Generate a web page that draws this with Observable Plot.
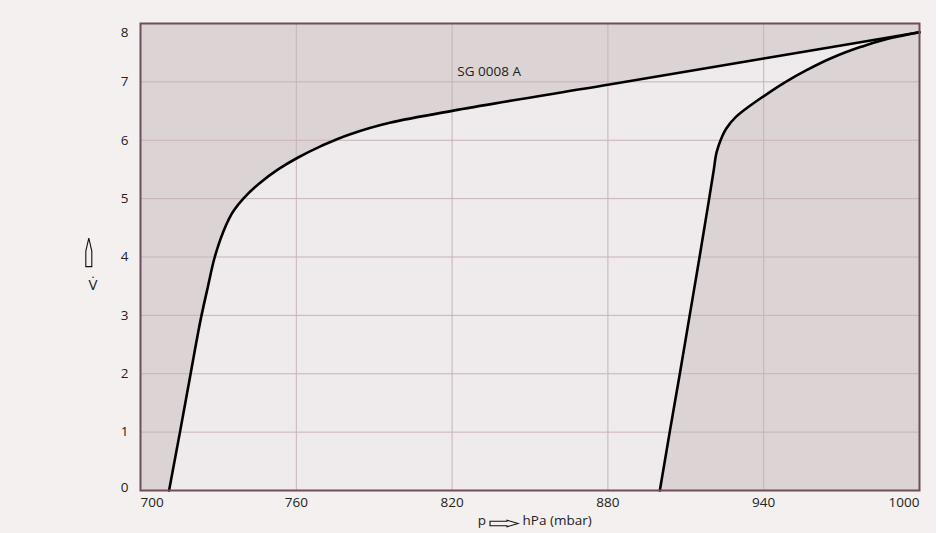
<!DOCTYPE html>
<html>
<head>
<meta charset="utf-8">
<script src="https://cdn.jsdelivr.net/npm/d3@7"></script>
<script src="https://cdn.jsdelivr.net/npm/@observablehq/plot@0.6"></script>
<style>
  html, body { margin: 0; padding: 0; background: #ffffff; }
  #chart svg { display: block; }
</style>
</head>
<body>
<div id="chart"></div>
<script>
// Curve SG 0008 A: left branch (rising, then upper flat branch)
const leftP = [711, 715.2, 719.3, 723.5, 726.0, 728.6, 731.6, 736.0, 739.6, 745.5, 753.0, 760.5, 769.5, 780.5, 796, 822, 880, 940, 1000];
const leftV = [0, 1, 2, 3, 3.5, 4.0, 4.4, 4.8, 5.0, 5.25, 5.5, 5.7, 5.9, 6.1, 6.3, 6.52, 6.95, 7.40, 7.85];
// Right branch
const rightP = [900, 903.8, 907.7, 911.5, 915.3, 919.0, 920.8, 921.9, 923.4, 925.6, 929.3, 935.0, 941.5, 948.5, 956.5, 965.7, 977.5, 989, 1000];
const rightV = [0, 1, 2, 3, 4, 5, 5.5, 5.8, 6.0, 6.2, 6.4, 6.6, 6.8, 7.0, 7.2, 7.4, 7.6, 7.75, 7.85];

const xTicks = [700, 760, 820, 880, 940, 1000];
const yTicks = [0, 1, 2, 3, 4, 5, 6, 7, 8];
const seriesLabel = "SG 0008 A";
const labelP = 822;
const labelV = 7.18;

const left = leftP.map((p, i) => ({p, v: leftV[i]}));
const right = rightP.map((p, i) => ({p, v: rightV[i]}));

const dark = "#dcd3d4";
const light = "#efeaeb";
const gridC = "#c6b3b8";
const frameC = "#6e4d5d";
const pMax = xTicks[xTicks.length - 1];

const chart = Plot.plot({
  width: 936,
  height: 533,
  marginLeft: 140,
  marginRight: 17,
  marginTop: 23,
  marginBottom: 43,
  style: {background: "#f3f0ef", fontFamily: "'Open Sans', 'DejaVu Sans', sans-serif", fontSize: "13.5px", color: "#222"},
  x: {domain: [700, 1000], axis: null},
  y: {domain: [0, 8], axis: null},
  marks: [
    Plot.frame({fill: dark}),
    // light band: right of left branch ...
    Plot.areaX(left, {y: "v", x1: "p", x2: pMax, fill: light, curve: "monotone-y"}),
    // ... but not right of the right branch
    Plot.areaX(right, {y: "v", x1: "p", x2: pMax, fill: dark, curve: "monotone-y"}),
    Plot.gridX(xTicks.slice(1, -1), {stroke: gridC, strokeOpacity: 1, strokeWidth: 1}),
    Plot.gridY(yTicks.slice(1, -1), {stroke: gridC, strokeOpacity: 1, strokeWidth: 1}),
    Plot.line(left, {x: "p", y: "v", stroke: "#000", strokeWidth: 2.6, curve: "monotone-y"}),
    Plot.line(right, {x: "p", y: "v", stroke: "#000", strokeWidth: 2.6, curve: "monotone-y"}),
    Plot.frame({stroke: frameC, strokeWidth: 2}),
    // y tick labels
    Plot.text(yTicks.slice(1, -1), {y: d => d, text: d => String(d), frameAnchor: "left", dx: -12, textAnchor: "end"}),
    Plot.text(yTicks.slice(-1), {y: d => d, text: d => String(d), frameAnchor: "left", dx: -12, dy: 9, textAnchor: "end"}),
    Plot.text(yTicks.slice(0, 1), {y: d => d, text: d => String(d), frameAnchor: "left", dx: -12, dy: -3, textAnchor: "end"}),
    // x tick labels
    Plot.text(xTicks.slice(1, -1), {x: d => d, text: d => String(d), frameAnchor: "bottom", dy: 16}),
    Plot.text(xTicks.slice(0, 1), {x: d => d, text: d => String(d), frameAnchor: "bottom", dy: 16, textAnchor: "start"}),
    Plot.text(xTicks.slice(-1), {x: d => d, text: d => String(d), frameAnchor: "bottom", dy: 16, textAnchor: "end"}),
    // series label
    Plot.text([seriesLabel], {x: labelP, y: labelV, text: d => d, textAnchor: "start"}),
    // x axis label (arrow drawn below)
    Plot.text(["p"], {text: d => d, frameAnchor: "bottom", dx: -44, dy: 34, textAnchor: "end"}),
    Plot.text(["hPa (mbar)"], {text: d => d, frameAnchor: "bottom", dx: -7.5, dy: 34, textAnchor: "start"}),
    // y axis label (arrow drawn below)
    Plot.text(["V\u0307"], {text: d => d, frameAnchor: "left", dx: -52, dy: 28, fontSize: 15})
  ]
});

document.getElementById("chart").appendChild(chart);

// outlined arrow symbols of the axis labels
const svg = d3.select(chart);
svg.append("path")
  .attr("d", "M490,521.3 H507 V520.2 L518,523.5 L507,526.8 V525.7 H490 Z")
  .attr("fill", "none").attr("stroke", "#111").attr("stroke-width", 1.1);
svg.append("path")
  .attr("d", "M85.8,266.6 V251 L88.8,238.2 L91.8,251 V266.6 Z")
  .attr("fill", "none").attr("stroke", "#111").attr("stroke-width", 1.1);
</script>
</body>
</html>
